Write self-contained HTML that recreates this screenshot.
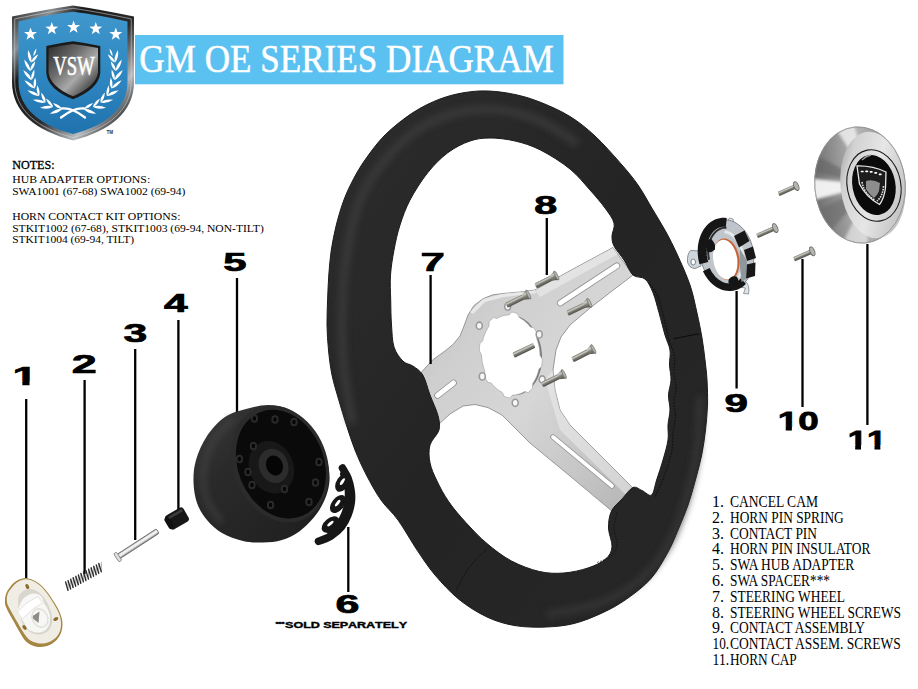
<!DOCTYPE html>
<html><head><meta charset="utf-8"><title>GM OE Series Diagram</title>
<style>
html,body{margin:0;padding:0;background:#fff;}
body{width:918px;height:689px;overflow:hidden;}
svg{display:block;}
.ser{font-family:"Liberation Serif","DejaVu Serif",serif;}
.num{font-family:"Liberation Sans","DejaVu Sans",sans-serif;font-weight:bold;font-kerning:none;}
</style></head><body>
<svg width="918" height="689" viewBox="0 0 918 689">
<defs>

<linearGradient id="gBlue" x1="0" y1="0" x2="0" y2="1"><stop offset="0" stop-color="#3f97cd"/><stop offset="0.55" stop-color="#2e86c0"/><stop offset="1" stop-color="#1f72ad"/></linearGradient>
<linearGradient id="gChrome" x1="0" y1="0" x2="1" y2="1"><stop offset="0" stop-color="#222"/><stop offset="0.18" stop-color="#8a8f93"/><stop offset="0.3" stop-color="#1a1a1a"/><stop offset="0.55" stop-color="#2a2a2a"/><stop offset="0.75" stop-color="#b8bcc0"/><stop offset="0.88" stop-color="#333"/><stop offset="1" stop-color="#111"/></linearGradient>
<linearGradient id="gInner" x1="0" y1="0" x2="1" y2="1"><stop offset="0" stop-color="#2c2c2c"/><stop offset="0.35" stop-color="#6a6a6a"/><stop offset="0.6" stop-color="#a9a9a9"/><stop offset="0.8" stop-color="#5a5a5a"/><stop offset="1" stop-color="#333"/></linearGradient>
<linearGradient id="gSilver" x1="0" y1="0" x2="1" y2="1"><stop offset="0" stop-color="#bdbdbd"/><stop offset="0.3" stop-color="#cfcfcf"/><stop offset="0.55" stop-color="#d6d6d6"/><stop offset="0.8" stop-color="#c6c6c6"/><stop offset="1" stop-color="#b4b4b4"/></linearGradient>
<linearGradient id="gWheel" x1="0" y1="0" x2="1" y2="1"><stop offset="0" stop-color="#2d2d2d"/><stop offset="0.5" stop-color="#242424"/><stop offset="1" stop-color="#272727"/></linearGradient>
<linearGradient id="gScrew" x1="0" y1="0" x2="0" y2="1"><stop offset="0" stop-color="#7c7c75"/><stop offset="0.28" stop-color="#cdcdc6"/><stop offset="0.55" stop-color="#7d7d75"/><stop offset="1" stop-color="#4f4f49"/></linearGradient>
<linearGradient id="gPin" x1="0" y1="0" x2="0" y2="1"><stop offset="0" stop-color="#a5a5a5"/><stop offset="0.35" stop-color="#fafafa"/><stop offset="0.65" stop-color="#e2e2e2"/><stop offset="1" stop-color="#777"/></linearGradient>
<linearGradient id="gHubSide" x1="0" y1="0" x2="1" y2="1"><stop offset="0" stop-color="#3c3c3c"/><stop offset="0.35" stop-color="#2a2a2a"/><stop offset="0.8" stop-color="#222"/><stop offset="1" stop-color="#181818"/></linearGradient>
<linearGradient id="gCap" x1="0" y1="0" x2="1" y2="0.6"><stop offset="0" stop-color="#8b8b8b"/><stop offset="0.25" stop-color="#d2d2d2"/><stop offset="0.6" stop-color="#e6e6e6"/><stop offset="1" stop-color="#c4c4c4"/></linearGradient>
<linearGradient id="gCapSide" x1="0" y1="0" x2="1" y2="0"><stop offset="0" stop-color="#6e6e6e"/><stop offset="0.5" stop-color="#b5b5b5"/><stop offset="1" stop-color="#8a8a8a"/></linearGradient>
<filter id="blur3" x="-30%" y="-30%" width="160%" height="160%"><feGaussianBlur stdDeviation="3"/></filter>
<filter id="blur2" x="-30%" y="-30%" width="160%" height="160%"><feGaussianBlur stdDeviation="1.6"/></filter>

<clipPath id="plateClip"><path d="M418.0 376.0L432.5 360.0L445.0 351.0L453.0 344.5L460.0 336.0L464.0 326.0L468.0 315.0L474.0 305.5L482.6 299.0L492.0 295.0L503.0 293.5L520.0 292.0L535.0 290.0L575.0 268.0L613.0 247.5L633.0 275.0L612.0 291.0L590.4 307.7L570.0 325.0L561.0 337.0L556.0 350.0L553.0 370.0L555.0 390.0L560.0 410.0L570.0 425.0L600.0 455.0L633.0 488.0L613.0 512.0L570.0 476.0L530.0 443.0L515.0 428.0L502.0 415.0L488.0 407.6L475.0 404.5L463.0 406.0L450.0 414.0L438.0 425.0Z"/></clipPath>
<clipPath id="capClip"><ellipse cx="860" cy="185" rx="45.6" ry="58.6" transform="rotate(-5 860 185)"/></clipPath>
<clipPath id="nc1"><path d="M-1.00 -25.30H14.07V-3.33H9.66V2.00H5.62V-3.33H-1.00Z"/></clipPath>
<clipPath id="nc2"><path d="M-1.00 -25.30H14.07V-3.33H9.72V2.00H5.56V-3.33H-1.00ZM14.07 -25.30H30.14V3.00H14.07Z"/></clipPath>
<clipPath id="nc3"><path d="M-1.00 -25.30H14.07V-3.33H9.74V2.00H5.54V-3.33H-1.00ZM13.07 -25.30H28.14V-3.33H23.81V2.00H19.61V-3.33H13.07Z"/></clipPath>
</defs>
<rect x="135" y="35" width="428.5" height="49.3" fill="#5bc1f1"/>
<text class="ser" x="139.3" y="71.6" font-size="40.3" fill="#fff" stroke="#fff" stroke-width="0.55" textLength="414.5" lengthAdjust="spacingAndGlyphs">GM OE SERIES DIAGRAM</text>
<path d="M12 16.5 Q45 9.5 73 5.4 Q101 9.5 134 16.5 L134 82 C134 112 110 131 73 140.4 C36 131 12 112 12 82 Z" fill="url(#gChrome)"/>
<path d="M12 16.5 Q45 9.5 73 5.4 Q101 9.5 134 16.5 L134 82 C134 112 110 131 73 140.4 C36 131 12 112 12 82 Z" fill="none" stroke="#d9dcde" stroke-width="1" opacity="0.55" transform="translate(73 73) scale(0.955 0.957) translate(-73 -73)"/>
<path d="M18.5 21.5 Q47 15 73 11.8 Q99 15 127.5 21.5 L127.5 82 C127.5 108 106 125.5 73 134 C40 125.5 18.5 108 18.5 82 Z" fill="url(#gBlue)"/>
<path d="M30.5 27.4L32.1 32.0L37.0 32.1L33.1 35.0L34.5 39.7L30.5 36.9L26.5 39.7L27.9 35.0L24.0 32.1L28.9 32.0Z" fill="#fff"/>
<path d="M51.8 22.0L53.4 26.6L58.3 26.7L54.4 29.6L55.8 34.3L51.8 31.5L47.8 34.3L49.2 29.6L45.3 26.7L50.2 26.6Z" fill="#fff"/>
<path d="M73.6 20.4L75.2 25.0L80.1 25.1L76.2 28.0L77.6 32.7L73.6 29.9L69.6 32.7L71.0 28.0L67.1 25.1L72.0 25.0Z" fill="#fff"/>
<path d="M95.8 22.0L97.4 26.6L102.3 26.7L98.4 29.6L99.8 34.3L95.8 31.5L91.8 34.3L93.2 29.6L89.3 26.7L94.2 26.6Z" fill="#fff"/>
<path d="M115.8 27.4L117.4 32.0L122.3 32.1L118.4 35.0L119.8 39.7L115.8 36.9L111.8 39.7L113.2 35.0L109.3 32.1L114.2 32.0Z" fill="#fff"/>
<path d="M46.3 46 Q60 43 73 41.3 Q86 43 100.3 46 L100.3 73 Q98.5 89 73 99.3 Q47.5 89 46.3 73 Z" fill="#1b1b1b"/>
<path d="M48.6 48 Q61 45.4 73 44 Q85 45.4 98 48 L98 72.5 Q96 86.5 73 96.3 Q50 86.5 48.6 72.5 Z" fill="url(#gInner)"/>
<text class="ser" x="53.2" y="75.4" font-size="26.5" fill="#fff" stroke="#fff" stroke-width="0.6" textLength="41.6" lengthAdjust="spacingAndGlyphs">VSW</text>
<path d="M62.0 109.2 Q56.1 108.3 49.8 113.8 Q58.2 113.8 62.0 109.2 Z M62.0 109.2 Q59.8 104.6 52.9 103.1 Q56.9 108.9 62.0 109.2 Z M53.0 107.0 Q47.6 104.4 40.0 107.8 Q48.0 110.2 53.0 107.0 Z M53.0 107.0 Q52.2 101.9 46.0 98.5 Q48.2 105.2 53.0 107.0 Z M45.5 102.5 Q41.0 98.6 32.8 99.7 Q39.8 104.2 45.5 102.5 Z M45.5 102.5 Q46.2 97.4 41.2 92.4 Q41.4 99.5 45.5 102.5 Z M39.0 96.0 Q35.6 91.1 27.3 90.3 Q33.1 96.3 39.0 96.0 Z M39.0 96.0 Q40.8 91.2 37.2 85.2 Q35.7 92.1 39.0 96.0 Z M34.5 88.5 Q32.3 83.0 24.4 80.3 Q28.6 87.5 34.5 88.5 Z M34.5 88.5 Q37.4 84.3 35.2 77.5 Q32.2 83.9 34.5 88.5 Z M31.5 80.0 Q30.4 74.1 23.2 70.0 Q26.0 77.8 31.5 80.0 Z M31.5 80.0 Q35.1 76.4 34.3 69.4 Q30.1 75.1 31.5 80.0 Z M30.2 71.0 Q30.4 65.0 24.2 59.5 Q25.2 67.7 30.2 71.0 Z M30.2 71.0 Q34.5 68.3 35.2 61.2 Q29.9 65.9 30.2 71.0 Z M31.0 62.5 Q32.6 56.8 28.0 49.9 Q27.0 58.1 31.0 62.5 Z M31.0 62.5 Q35.9 60.9 38.2 54.2 Q31.9 57.5 31.0 62.5 Z M33.5 56.0 Q36.3 53.7 36.4 48.5 Q33.0 52.4 33.5 56.0 Z M84.0 109.2 Q87.8 113.8 96.2 113.8 Q89.9 108.3 84.0 109.2 Z M84.0 109.2 Q89.1 108.9 93.1 103.1 Q86.2 104.6 84.0 109.2 Z M93.0 107.0 Q98.0 110.2 106.0 107.8 Q98.4 104.4 93.0 107.0 Z M93.0 107.0 Q97.8 105.2 100.0 98.5 Q93.8 101.9 93.0 107.0 Z M100.5 102.5 Q106.2 104.2 113.2 99.7 Q105.0 98.6 100.5 102.5 Z M100.5 102.5 Q104.6 99.5 104.8 92.4 Q99.8 97.4 100.5 102.5 Z M107.0 96.0 Q112.9 96.3 118.7 90.3 Q110.4 91.1 107.0 96.0 Z M107.0 96.0 Q110.3 92.1 108.8 85.2 Q105.2 91.2 107.0 96.0 Z M111.5 88.5 Q117.4 87.5 121.6 80.3 Q113.7 83.0 111.5 88.5 Z M111.5 88.5 Q113.8 83.9 110.8 77.5 Q108.6 84.3 111.5 88.5 Z M114.5 80.0 Q120.0 77.8 122.8 70.0 Q115.6 74.1 114.5 80.0 Z M114.5 80.0 Q115.9 75.1 111.7 69.4 Q110.9 76.4 114.5 80.0 Z M115.8 71.0 Q120.8 67.7 121.8 59.5 Q115.6 65.0 115.8 71.0 Z M115.8 71.0 Q116.1 65.9 110.8 61.2 Q111.5 68.3 115.8 71.0 Z M115.0 62.5 Q119.0 58.1 118.0 49.9 Q113.4 56.8 115.0 62.5 Z M115.0 62.5 Q114.1 57.5 107.8 54.2 Q110.1 60.9 115.0 62.5 Z M112.5 56.0 Q113.0 52.4 109.6 48.5 Q109.7 53.7 112.5 56.0 Z" fill="#fff"/>
<path d="M62 108.5 Q72 107.5 85 117.5 M84 108.5 Q74 107.5 61 117.5" stroke="#fff" stroke-width="2.3" fill="none" stroke-linecap="round"/>
<text x="106.5" y="134.3" font-size="4.6" font-family="Liberation Sans, sans-serif" font-weight="bold" fill="#333">TM</text>
<path d="M418.0 376.0L432.5 360.0L445.0 351.0L453.0 344.5L460.0 336.0L464.0 326.0L468.0 315.0L474.0 305.5L482.6 299.0L492.0 295.0L503.0 293.5L520.0 292.0L535.0 290.0L575.0 268.0L613.0 247.5L633.0 275.0L612.0 291.0L590.4 307.7L570.0 325.0L561.0 337.0L556.0 350.0L553.0 370.0L555.0 390.0L560.0 410.0L570.0 425.0L600.0 455.0L633.0 488.0L613.0 512.0L570.0 476.0L530.0 443.0L515.0 428.0L502.0 415.0L488.0 407.6L475.0 404.5L463.0 406.0L450.0 414.0L438.0 425.0Z" fill="url(#gSilver)" stroke="#8f8f8f" stroke-width="0.9"/>
<g clip-path="url(#plateClip)">
<path d="M535 290 L613 247.5 L618 254 L540 297 Z" fill="#f0f0f0" opacity="0.55"/>
<path d="M553 370 L570 425 L633 488 L626 495 L560 430 L545 380 Z" fill="#efefef" opacity="0.5"/>
<path d="M438 425 L463 406 L488 407.6 L530 443 L527 446 L487 411 L464 409.5 L440 427 Z" fill="#9a9a9a" opacity="0.5"/>
<path d="M470 312 L483 299 L503 293.5 L535 290 L536 293 L504 297 L485 302 L473 314 Z" fill="#f4f4f4" opacity="0.7"/>
</g>
<path d="M541.7 351.9L542.0 355.4L542.0 358.9L541.8 362.4L541.4 365.8L540.8 369.1L539.9 372.4L538.8 375.5L537.6 378.4L536.1 381.2L534.4 383.7L532.6 386.1L530.7 388.2L528.6 390.0L526.3 391.6L524.0 392.9L521.6 393.9L519.1 394.7L516.5 395.1L513.9 395.2L511.3 395.0L508.7 394.5L506.2 393.7L503.7 392.6L501.2 391.3L498.9 389.6L496.6 387.7L494.5 385.5L492.5 383.1L490.6 380.5L488.9 377.7L487.4 374.7L486.1 371.6L485.0 368.4L484.0 365.0L483.3 361.6L482.9 358.1L482.6 354.6L482.6 351.1L482.8 347.6L483.2 344.2L483.8 340.9L484.7 337.6L485.8 334.5L487.0 331.6L488.5 328.8L490.2 326.3L492.0 323.9L493.9 321.8L496.0 320.0L498.3 318.4L500.6 317.1L503.0 316.1L505.5 315.3L508.1 314.9L510.7 314.8L513.3 315.0L515.9 315.5L518.4 316.3L520.9 317.4L523.4 318.7L525.7 320.4L528.0 322.3L530.1 324.5L532.1 326.9L534.0 329.5L535.7 332.3L537.2 335.3L538.5 338.4L539.6 341.6L540.6 345.0L541.3 348.4Z" fill="#7a7a7a"/>
<path d="M539.8 351.9L540.1 355.4L542.3 359.2L542.1 363.0L541.7 366.6L538.9 369.1L538.1 372.3L537.0 375.4L535.7 378.4L534.3 381.1L532.7 383.7L532.4 388.3L530.3 390.6L528.1 392.6L524.7 391.5L522.4 392.8L520.0 393.8L517.5 394.6L515.0 395.0L512.5 395.1L509.8 397.9L507.1 397.4L504.4 396.5L502.3 392.5L499.9 391.1L497.6 389.5L495.4 387.6L493.2 385.4L491.3 383.0L487.8 382.3L486.0 379.3L484.4 376.1L484.9 371.5L483.8 368.3L482.9 364.9L482.2 361.5L481.8 358.1L481.5 354.6L479.3 350.8L479.5 347.0L479.9 343.4L482.7 340.9L483.5 337.7L484.6 334.6L485.9 331.6L487.3 328.9L488.9 326.3L489.2 321.7L491.3 319.4L493.5 317.4L496.9 318.5L499.2 317.2L501.6 316.2L504.1 315.4L506.6 315.0L509.1 314.9L511.8 312.1L514.5 312.6L517.2 313.5L519.3 317.5L521.7 318.9L524.0 320.5L526.2 322.4L528.4 324.6L530.3 327.0L533.8 327.7L535.6 330.7L537.2 333.9L536.7 338.5L537.8 341.7L538.7 345.1L539.4 348.5Z" fill="#fff" stroke="#a0a0a0" stroke-width="0.6"/>
<ellipse cx="479.3" cy="325.7" rx="3" ry="3.6" fill="#f7f7f7" stroke="#9a9a9a" stroke-width="1.6"/>
<ellipse cx="539.2" cy="334.4" rx="3" ry="3.6" fill="#f7f7f7" stroke="#9a9a9a" stroke-width="1.6"/>
<ellipse cx="482.3" cy="376.4" rx="3" ry="3.6" fill="#f7f7f7" stroke="#9a9a9a" stroke-width="1.6"/>
<ellipse cx="515.2" cy="402.8" rx="3" ry="3.6" fill="#f7f7f7" stroke="#9a9a9a" stroke-width="1.6"/>
<ellipse cx="542.2" cy="379.5" rx="3" ry="3.6" fill="#f7f7f7" stroke="#9a9a9a" stroke-width="1.6"/>
<ellipse cx="507.7" cy="306.6" rx="3" ry="3.6" fill="#f7f7f7" stroke="#9a9a9a" stroke-width="1.6"/>
<line x1="560.3" y1="303.0" x2="616.8" y2="265.8" stroke="#8f8f8f" stroke-width="6.6" stroke-linecap="round"/><line x1="560.3" y1="303.0" x2="616.8" y2="265.8" stroke="#fff" stroke-width="5.0" stroke-linecap="round"/>
<line x1="553.0" y1="437.0" x2="612.0" y2="486.0" stroke="#8f8f8f" stroke-width="5.4" stroke-linecap="round"/><line x1="553.0" y1="437.0" x2="612.0" y2="486.0" stroke="#fff" stroke-width="3.8" stroke-linecap="round"/>
<line x1="437.5" y1="395.5" x2="453.5" y2="383.0" stroke="#8f8f8f" stroke-width="6.6" stroke-linecap="round"/><line x1="437.5" y1="395.5" x2="453.5" y2="383.0" stroke="#fff" stroke-width="5.0" stroke-linecap="round"/>
<path d="M488.0 91.0C496.3 91.3 506.2 92.6 515.0 94.5C523.8 96.4 531.8 98.8 541.0 102.5C550.2 106.2 561.0 110.9 570.0 116.5C579.0 122.1 586.7 128.3 595.0 136.0C603.3 143.7 612.8 154.5 620.0 162.7C627.2 170.9 632.5 177.1 638.0 185.0C643.5 192.9 648.3 202.2 653.0 210.0C657.7 217.8 662.0 224.7 666.0 232.0C670.0 239.3 673.0 245.2 677.0 254.0C681.0 262.8 686.7 275.2 690.0 285.0C693.3 294.8 695.0 304.2 697.0 313.0C699.0 321.8 700.7 330.2 702.0 338.0C703.3 345.8 704.2 353.0 705.0 360.0C705.8 367.0 706.6 372.5 707.0 380.0C707.4 387.5 707.8 396.7 707.5 405.0C707.2 413.3 706.5 421.7 705.5 430.0C704.5 438.3 703.4 446.7 701.7 455.0C700.0 463.3 697.7 471.7 695.4 480.0C693.1 488.3 690.9 496.7 688.0 505.0C685.1 513.3 681.3 522.2 678.0 530.0C674.7 537.8 672.5 543.9 668.0 552.0C663.5 560.1 657.9 570.7 651.0 578.5C644.1 586.3 634.8 593.2 626.6 599.0C618.4 604.8 610.8 608.9 602.0 613.0C593.2 617.1 583.3 621.2 574.0 623.5C564.7 625.8 556.2 626.6 546.4 627.0C536.6 627.4 524.9 627.3 515.0 625.6C505.1 623.9 496.3 621.4 487.0 617.0C477.7 612.6 467.7 606.4 459.0 599.4C450.3 592.4 441.9 583.1 435.0 575.0C428.1 566.9 423.6 559.8 417.4 550.6C411.2 541.4 404.1 528.4 398.0 520.0C391.9 511.6 386.3 507.5 381.0 500.0C375.7 492.5 370.7 483.3 366.4 475.0C362.1 466.7 358.3 458.3 355.0 450.0C351.7 441.7 349.1 433.3 346.4 425.0C343.7 416.7 341.2 408.3 338.8 400.0C336.4 391.7 333.7 383.3 332.0 375.0C330.3 366.7 329.3 358.3 328.5 350.0C327.7 341.7 327.1 333.3 327.0 325.0C326.9 316.7 327.3 308.3 327.6 300.0C327.9 291.7 328.2 283.3 328.8 275.0C329.4 266.7 330.1 258.3 331.3 250.0C332.6 241.7 334.2 233.3 336.3 225.0C338.4 216.7 341.1 207.5 343.9 200.0C346.7 192.5 349.5 186.7 353.0 180.0C356.5 173.3 359.7 167.5 365.0 160.0C370.3 152.5 377.0 142.9 385.0 135.0C393.0 127.1 403.8 118.6 413.0 112.6C422.2 106.6 431.3 102.3 440.0 99.0C448.7 95.7 457.0 93.8 465.0 92.5C473.0 91.2 479.7 90.7 488.0 91.0Z M490.0 138.0C497.5 138.0 506.6 139.0 515.0 141.0C523.4 143.0 531.3 145.3 540.5 150.0C549.7 154.7 561.8 162.3 570.0 169.0C578.2 175.7 584.2 183.5 590.0 190.0C595.8 196.5 601.0 202.5 605.0 208.0C609.0 213.5 612.8 218.3 614.0 223.0C615.2 227.7 612.0 232.2 612.0 236.0C612.0 239.8 612.0 242.0 614.0 246.0C616.0 250.0 620.8 255.2 624.0 260.0C627.2 264.8 629.5 271.8 633.0 275.0C636.5 278.2 641.7 276.1 645.0 279.0C648.3 281.9 650.7 287.1 653.0 292.7C655.3 298.3 657.0 305.6 659.0 312.7C661.0 319.8 663.2 328.8 665.0 335.0C666.8 341.2 669.2 345.0 670.0 350.0C670.8 355.0 669.3 360.0 669.5 365.0C669.7 370.0 671.2 375.0 671.0 380.0C670.8 385.0 668.7 390.0 668.5 395.0C668.3 400.0 670.1 405.0 670.0 410.0C669.9 415.0 668.3 420.0 668.0 425.0C667.7 430.0 668.8 434.2 668.0 440.0C667.2 445.8 664.9 453.3 663.0 460.0C661.1 466.7 658.5 474.2 656.6 480.0C654.7 485.8 654.0 493.2 651.6 495.0C649.2 496.8 645.1 491.8 642.0 490.5C638.9 489.2 636.3 486.1 633.0 487.5C629.7 488.9 625.6 495.1 622.0 499.0C618.4 502.9 613.8 506.2 611.5 511.0C609.2 515.8 608.4 522.0 608.5 528.0C608.6 534.0 612.5 541.8 612.0 547.0C611.5 552.2 609.6 555.5 605.6 559.0C601.6 562.5 595.0 565.7 588.0 568.0C581.0 570.3 571.9 572.4 563.8 573.0C555.7 573.6 548.1 573.5 539.4 571.5C530.7 569.5 520.2 565.6 511.5 561.0C502.8 556.4 494.6 550.0 487.0 543.6C479.4 537.2 472.4 529.7 466.0 522.7C459.6 515.7 453.6 508.8 448.8 501.8C444.0 494.9 440.1 487.5 437.0 481.0C433.9 474.5 431.2 468.8 430.0 462.8C428.8 456.8 428.5 450.5 430.0 445.0C431.5 439.5 437.7 435.0 439.0 430.0C440.3 425.0 439.3 420.8 437.8 415.0C436.3 409.2 432.5 401.7 430.0 395.0C427.5 388.3 425.7 379.8 422.8 375.0C419.9 370.2 416.1 368.3 412.8 366.0C409.5 363.7 405.9 364.2 402.8 361.0C399.7 357.8 395.9 353.0 394.0 347.0C392.1 341.0 392.1 332.8 391.5 325.0C390.9 317.2 390.9 308.3 390.7 300.0C390.5 291.7 389.9 283.3 390.5 275.0C391.1 266.7 392.4 258.3 394.0 250.0C395.6 241.7 397.3 233.3 400.0 225.0C402.7 216.7 405.4 208.7 410.0 200.0C414.6 191.3 421.4 180.6 427.7 172.7C434.0 164.8 440.8 158.0 447.8 152.7C454.9 147.4 463.0 143.4 470.0 141.0C477.0 138.6 482.5 138.0 490.0 138.0Z" fill="url(#gWheel)" fill-rule="evenodd" stroke="#1b1b1b" stroke-width="1" stroke-linejoin="round"/>
<path d="M352.0 420.0C350.7 411.7 345.7 386.7 344.0 370.0C342.3 353.3 341.7 338.3 342.0 320.0C342.3 301.7 343.0 280.0 346.0 260.0C349.0 240.0 353.5 216.7 360.0 200.0C366.5 183.3 375.0 172.0 385.0 160.0C395.0 148.0 407.5 136.0 420.0 128.0C432.5 120.0 446.7 115.0 460.0 112.0C473.3 109.0 486.7 108.5 500.0 110.0C513.3 111.5 527.5 115.7 540.0 121.0C552.5 126.3 569.2 138.5 575.0 142.0" fill="none" stroke="#3d3d3d" stroke-width="9" opacity="0.7" stroke-linecap="round" filter="url(#blur3)"/>
<path d="M700.0 400.0C699.5 408.3 699.3 433.3 697.0 450.0C694.7 466.7 690.8 484.2 686.0 500.0C681.2 515.8 675.7 531.7 668.0 545.0C660.3 558.3 651.3 570.3 640.0 580.0C628.7 589.7 615.0 597.3 600.0 603.0C585.0 608.7 558.3 612.2 550.0 614.0" fill="none" stroke="#383838" stroke-width="8" opacity="0.7" stroke-linecap="round" filter="url(#blur3)"/>
<path d="M673.5 338.8 L699 333.8" stroke="#0c0c0c" stroke-width="1.1"/>
<path d="M650.0 284.0C651.3 286.2 655.7 291.3 658.0 297.0C660.3 302.7 662.2 310.8 664.0 318.0C665.8 325.2 667.2 333.7 669.0 340.0C670.8 346.3 673.7 350.7 674.5 356.0C675.3 361.3 673.8 366.7 674.0 372.0C674.2 377.3 676.0 383.0 676.0 388.0C676.0 393.0 674.1 397.2 674.0 402.0C673.9 406.8 675.7 412.0 675.5 417.0C675.3 422.0 673.5 427.0 673.0 432.0C672.5 437.0 673.3 441.5 672.5 447.0C671.7 452.5 669.8 459.0 668.0 465.0C666.2 471.0 663.7 477.7 661.5 483.0C659.3 488.3 656.1 494.7 655.0 497.0" fill="none" stroke="#0b0b0b" stroke-width="1.1" stroke-dasharray="1.6 1.4" opacity="0.8"/>
<path d="M617.0 512.0C616.5 514.7 614.0 522.5 614.0 528.0C614.0 533.5 617.5 540.3 617.0 545.0C616.5 549.7 614.5 553.0 611.0 556.0C607.5 559.0 598.5 561.8 596.0 563.0" fill="none" stroke="#0b0b0b" stroke-width="1" stroke-dasharray="1.5 1.5" opacity="0.7"/>
<path d="M456 591 Q466 566 487 549" stroke="#151515" stroke-width="1" fill="none" opacity="0.8"/>
<g transform="translate(535.5 286.0) rotate(-26.6)"><rect x="0" y="-2.7" width="20.4" height="5.4" rx="1.2" fill="url(#gScrew)"/><path d="M17.4 -2.7 L23.4 -5.0 L23.4 5.0 L17.4 2.7 Z" fill="url(#gScrew)"/><ellipse cx="23.4" cy="0" rx="1.3" ry="5.0" fill="#b5b5b0" stroke="#6a6a66" stroke-width="0.6"/></g>
<g transform="translate(506.5 305.3) rotate(-26.1)"><rect x="0" y="-2.7" width="21.4" height="5.4" rx="1.2" fill="url(#gScrew)"/><path d="M18.4 -2.7 L24.4 -5.0 L24.4 5.0 L18.4 2.7 Z" fill="url(#gScrew)"/><ellipse cx="24.4" cy="0" rx="1.3" ry="5.0" fill="#b5b5b0" stroke="#6a6a66" stroke-width="0.6"/></g>
<g transform="translate(567.5 313.3) rotate(-25.5)"><rect x="0" y="-2.7" width="21.3" height="5.4" rx="1.2" fill="url(#gScrew)"/><path d="M18.3 -2.7 L24.3 -5.0 L24.3 5.0 L18.3 2.7 Z" fill="url(#gScrew)"/><ellipse cx="24.3" cy="0" rx="1.3" ry="5.0" fill="#b5b5b0" stroke="#6a6a66" stroke-width="0.6"/></g>
<g transform="translate(513.5 355.3) rotate(-25.6)"><rect x="0" y="-2.7" width="23.0" height="5.4" rx="1.2" fill="url(#gScrew)"/></g>
<g transform="translate(572.5 359.8) rotate(-27.2)"><rect x="0" y="-2.7" width="20.5" height="5.4" rx="1.2" fill="url(#gScrew)"/><path d="M17.5 -2.7 L23.5 -5.0 L23.5 5.0 L17.5 2.7 Z" fill="url(#gScrew)"/><ellipse cx="23.5" cy="0" rx="1.3" ry="5.0" fill="#b5b5b0" stroke="#6a6a66" stroke-width="0.6"/></g>
<g transform="translate(542.0 384.8) rotate(-26.1)"><rect x="0" y="-2.7" width="21.4" height="5.4" rx="1.2" fill="url(#gScrew)"/><path d="M18.4 -2.7 L24.4 -5.0 L24.4 5.0 L18.4 2.7 Z" fill="url(#gScrew)"/><ellipse cx="24.4" cy="0" rx="1.3" ry="5.0" fill="#b5b5b0" stroke="#6a6a66" stroke-width="0.6"/></g>
<line x1="26.2" y1="399.0" x2="26.2" y2="578.0" stroke="#000" stroke-width="2.3"/>
<line x1="84.6" y1="380.0" x2="84.6" y2="574.0" stroke="#000" stroke-width="2.3"/>
<line x1="135.2" y1="349.0" x2="135.2" y2="540.0" stroke="#000" stroke-width="2.3"/>
<line x1="178.4" y1="320.0" x2="178.4" y2="510.0" stroke="#000" stroke-width="2.3"/>
<line x1="237.0" y1="278.0" x2="237.0" y2="412.0" stroke="#000" stroke-width="2.3"/>
<line x1="348.3" y1="527.0" x2="348.3" y2="592.0" stroke="#000" stroke-width="2.3"/>
<line x1="430.6" y1="275.0" x2="430.6" y2="364.0" stroke="#000" stroke-width="2.3"/>
<line x1="546.8" y1="218.0" x2="546.8" y2="275.0" stroke="#000" stroke-width="2.3"/>
<line x1="736.6" y1="291.0" x2="736.6" y2="388.5" stroke="#000" stroke-width="2.3"/>
<line x1="802.5" y1="259.0" x2="802.5" y2="407.0" stroke="#000" stroke-width="2.3"/>
<line x1="867.4" y1="244.0" x2="867.4" y2="425.0" stroke="#000" stroke-width="2.3"/>
<path d="M246.0 409.0C238.8 411.0 231.5 412.5 225.0 417.0C218.5 421.5 211.8 428.8 207.0 436.0C202.2 443.2 198.2 452.3 196.0 460.0C193.8 467.7 193.3 474.8 193.5 482.0C193.7 489.2 194.8 496.7 197.0 503.0C199.2 509.3 202.8 515.0 207.0 520.0C211.2 525.0 216.0 529.5 222.0 533.0C228.0 536.5 236.2 539.4 243.0 541.0C249.8 542.6 256.5 542.7 263.0 542.5C269.5 542.3 275.8 541.9 282.0 540.0C288.2 538.1 294.0 535.7 300.0 531.0C306.0 526.3 313.3 518.8 318.0 512.0C322.7 505.2 326.2 497.0 328.0 490.0C329.8 483.0 330.0 477.5 329.0 470.0C328.0 462.5 325.8 453.0 322.0 445.0C318.2 437.0 311.7 428.0 306.0 422.0C300.3 416.0 294.3 411.8 288.0 409.0C281.7 406.2 275.0 405.0 268.0 405.0C261.0 405.0 253.2 407.0 246.0 409.0Z" fill="url(#gHubSide)"/>
<g transform="rotate(-22 280 464)"><ellipse cx="280" cy="464" rx="47" ry="60" fill="#2b2b2b"/><ellipse cx="280.8" cy="464.5" rx="43" ry="56" fill="#0a0a0a"/></g>
<g transform="rotate(-22 272 466)"><ellipse cx="271" cy="467" rx="22" ry="27" fill="#181818"/><ellipse cx="273.5" cy="466.5" rx="14.5" ry="17.5" fill="#2c2c2c"/><ellipse cx="274.5" cy="466.5" rx="8.3" ry="10.3" fill="#050505"/></g>
<ellipse cx="254.4" cy="418.5" rx="2.7" ry="3.3" fill="#050505" stroke="#2a2a2a" stroke-width="2"/>
<ellipse cx="275.0" cy="419.5" rx="2.7" ry="3.3" fill="#050505" stroke="#2a2a2a" stroke-width="2"/>
<ellipse cx="294.0" cy="422.0" rx="2.7" ry="3.3" fill="#050505" stroke="#2a2a2a" stroke-width="2"/>
<ellipse cx="319.0" cy="462.0" rx="2.7" ry="3.3" fill="#050505" stroke="#2a2a2a" stroke-width="2"/>
<ellipse cx="315.5" cy="482.5" rx="2.7" ry="3.3" fill="#050505" stroke="#2a2a2a" stroke-width="2"/>
<ellipse cx="309.0" cy="502.0" rx="2.7" ry="3.3" fill="#050505" stroke="#2a2a2a" stroke-width="2"/>
<ellipse cx="270.6" cy="505.0" rx="2.7" ry="3.3" fill="#050505" stroke="#2a2a2a" stroke-width="2"/>
<ellipse cx="284.5" cy="489.0" rx="2.7" ry="3.3" fill="#050505" stroke="#2a2a2a" stroke-width="2"/>
<ellipse cx="252.0" cy="485.0" rx="2.7" ry="3.3" fill="#050505" stroke="#2a2a2a" stroke-width="2"/>
<ellipse cx="239.4" cy="459.0" rx="2.7" ry="3.3" fill="#050505" stroke="#2a2a2a" stroke-width="2"/>
<ellipse cx="253.4" cy="446.0" rx="2.7" ry="3.3" fill="#050505" stroke="#2a2a2a" stroke-width="2"/>
<ellipse cx="248.0" cy="472.0" rx="2.7" ry="3.3" fill="#050505" stroke="#2a2a2a" stroke-width="2"/>
<path d="M232.0 420.0C229.0 423.3 218.7 432.0 214.0 440.0C209.3 448.0 205.3 458.3 204.0 468.0C202.7 477.7 203.3 489.3 206.0 498.0C208.7 506.7 217.7 516.3 220.0 520.0" fill="none" stroke="#4a4a4a" stroke-width="6" opacity="0.5" stroke-linecap="round" filter="url(#blur3)"/>
<path d="M342.5 468.0C343.4 469.7 346.6 474.3 348.0 478.0C349.4 481.7 350.4 486.0 351.0 490.0C351.6 494.0 351.8 497.8 351.3 502.0C350.8 506.2 349.6 510.8 348.0 515.0C346.4 519.2 344.3 523.5 341.5 527.0C338.7 530.5 334.8 533.6 331.0 536.0C327.2 538.4 320.6 540.4 318.5 541.3" fill="none" stroke="#161616" stroke-width="7.6" stroke-linecap="round"/>
<path d="M343.0 474.0C343.7 475.8 346.2 480.7 347.0 485.0C347.8 489.3 347.9 495.3 347.5 500.0C347.1 504.7 346.0 509.0 344.5 513.0C343.0 517.0 340.9 520.8 338.5 524.0C336.1 527.2 331.4 530.7 330.0 532.0" fill="none" stroke="#161616" stroke-width="6" stroke-linecap="round"/>
<g transform="rotate(33 342.8 482.5)"><ellipse cx="342.8" cy="482.5" rx="6.2" ry="10.3" fill="#161616"/><ellipse cx="342.0" cy="482.0" rx="1.5" ry="3.9" fill="#fff"/></g>
<g transform="rotate(38 338.0 504.0)"><ellipse cx="338.0" cy="504.0" rx="6.2" ry="10.3" fill="#161616"/><ellipse cx="337.2" cy="503.5" rx="1.5" ry="3.9" fill="#fff"/></g>
<g transform="rotate(50 330.5 524.5)"><ellipse cx="330.5" cy="524.5" rx="6.2" ry="10.3" fill="#161616"/><ellipse cx="329.7" cy="524.0" rx="1.5" ry="3.9" fill="#fff"/></g>
<g transform="rotate(-30 177 518.5)"><rect x="166.5" y="510.5" width="21" height="16" rx="3.2" fill="#171717"/><rect x="165.2" y="512" width="6" height="13" rx="2.5" fill="#101010"/><rect x="170" y="512.6" width="16" height="2.6" rx="1.2" fill="#4a4a4a" opacity="0.75"/></g>
<g transform="translate(117.3 557.3) rotate(-33)"><rect x="1" y="-2.6" width="47.2" height="5.2" rx="1.2" fill="url(#gPin)" stroke="#666" stroke-width="0.8"/><rect x="-1.2" y="-5" width="3.4" height="10" rx="1.5" fill="#dedede" stroke="#808080" stroke-width="0.8"/></g>
<path d="M68.0 590.4L68.1 580.6M70.6 589.0L70.7 579.1M73.1 587.6L73.2 577.7M75.7 586.2L75.8 576.3M78.3 584.7L78.4 574.9M80.8 583.3L80.9 573.4M83.4 581.9L83.5 572.0M85.9 580.5L86.0 570.6M88.5 579.1L88.6 569.2M91.0 577.6L91.1 567.8M93.6 576.2L93.7 566.3M96.2 574.8L96.3 564.9M98.7 573.4L98.8 563.5M101.3 571.9L101.4 562.1" fill="none" stroke="#8a8a8a" stroke-width="0.7"/>
<path d="M65.6 582.0L68.0 590.4M68.1 580.6L70.6 589.0M70.7 579.1L73.1 587.6M73.2 577.7L75.7 586.2M75.8 576.3L78.3 584.7M78.4 574.9L80.8 583.3M80.9 573.4L83.4 581.9M83.5 572.0L85.9 580.5M86.0 570.6L88.5 579.1M88.6 569.2L91.0 577.6M91.1 567.8L93.6 576.2M93.7 566.3L96.2 574.8M96.3 564.9L98.7 573.4M98.8 563.5L101.3 571.9" fill="none" stroke="#2a2a2a" stroke-width="1.35" stroke-linecap="round"/>
<path d="M24.7 578.0C27.6 577.8 30.4 578.9 33.0 580.0C35.6 581.1 38.1 582.5 40.6 584.7C43.1 586.9 45.6 589.9 48.0 593.0C50.4 596.1 53.0 600.2 55.0 603.5C57.0 606.8 58.8 609.9 60.0 613.0C61.2 616.1 62.2 619.2 62.4 622.4C62.6 625.6 62.3 629.1 61.3 632.0C60.3 634.9 58.6 637.8 56.6 640.0C54.6 642.2 51.7 644.1 49.0 645.3C46.3 646.5 43.4 647.0 40.6 647.0C37.9 647.0 35.0 646.5 32.5 645.5C30.0 644.5 27.8 643.4 25.5 641.0C23.2 638.6 21.2 634.8 19.0 631.0C16.8 627.2 14.2 622.5 12.0 618.5C9.8 614.5 7.2 610.1 6.0 607.0C4.8 603.9 5.0 602.2 5.0 600.0C5.0 597.8 5.3 595.9 6.0 594.0C6.7 592.1 7.4 590.6 9.0 588.5C10.6 586.4 12.9 583.2 15.5 581.5C18.1 579.8 21.8 578.2 24.7 578.0Z" fill="#a58642"/>
<path d="M25.0 579.3C27.8 579.0 30.4 579.9 33.0 581.0C35.5 582.1 37.9 583.5 40.3 585.7C42.7 587.9 45.2 591.0 47.5 594.0C49.8 597.0 52.1 600.8 54.0 604.0C55.9 607.2 57.8 610.4 59.0 613.5C60.2 616.6 60.8 619.5 61.0 622.4C61.2 625.3 60.8 628.5 60.0 631.0C59.2 633.5 57.8 635.7 56.0 637.5C54.2 639.3 51.5 641.0 49.0 642.0C46.5 643.0 43.6 643.5 41.0 643.5C38.4 643.5 35.8 642.9 33.5 642.0C31.2 641.1 29.6 640.2 27.5 638.0C25.4 635.8 23.2 632.1 21.0 628.5C18.8 624.9 16.2 620.3 14.0 616.5C11.8 612.7 9.2 608.3 8.0 605.5C6.8 602.7 6.9 601.4 6.8 599.5C6.7 597.6 7.0 596.0 7.6 594.3C8.2 592.6 9.0 591.2 10.5 589.3C12.0 587.4 14.1 584.4 16.5 582.7C18.9 581.0 22.2 579.6 25.0 579.3Z" fill="#f0ede5"/>
<path d="M18.0 600.0C18.3 595.8 20.0 593.8 22.0 592.0C24.0 590.2 27.2 588.9 30.0 589.0C32.8 589.1 36.3 590.5 39.0 592.5C41.7 594.5 44.0 597.8 46.0 601.0C48.0 604.2 50.0 608.3 51.0 612.0C52.0 615.7 52.5 619.8 52.0 623.0C51.5 626.2 50.0 629.1 48.0 631.0C46.0 632.9 42.7 634.2 40.0 634.5C37.3 634.8 34.5 634.2 32.0 633.0C29.5 631.8 27.0 629.7 25.0 627.0C23.0 624.3 21.2 621.5 20.0 617.0C18.8 612.5 17.7 604.2 18.0 600.0Z" fill="#d9d6cd"/>
<path d="M19.0 607.0C20.0 604.3 21.7 600.2 24.0 598.0C26.3 595.8 30.2 593.8 33.0 593.5C35.8 593.2 39.2 594.4 41.0 596.0C42.8 597.6 43.0 601.0 44.0 603.0C45.0 605.0 46.0 605.8 47.0 608.0C48.0 610.2 49.7 613.2 50.0 616.0C50.3 618.8 50.0 622.5 49.0 625.0C48.0 627.5 46.2 629.8 44.0 631.0C41.8 632.2 38.7 632.8 36.0 632.5C33.3 632.2 30.2 630.9 28.0 629.0C25.8 627.1 24.7 623.5 23.0 621.0C21.3 618.5 18.7 616.3 18.0 614.0C17.3 611.7 18.0 609.7 19.0 607.0Z" fill="#f7f7f5"/>
<path d="M17.5 612 Q26 602 38 596.5 L42.5 603 Q32 608 22.5 619 Z" fill="#ffffff" stroke="#dedcd6" stroke-width="0.8"/>
<path d="M31 617 L39.5 611.5 L38.5 623 Z" fill="#8f8d86"/>
<path d="M30 616.5 L36 612.5" stroke="#fff" stroke-width="1.4"/>
<ellipse cx="40" cy="618" rx="7.5" ry="9.5" fill="none" stroke="#e3e1db" stroke-width="1.6" transform="rotate(-28 40 618)"/>
<ellipse cx="27.3" cy="586.5" rx="1.7" ry="2.7" fill="#8a6d2c" transform="rotate(-25 27.3 586.5)"/>
<ellipse cx="55.8" cy="619.0" rx="1.7" ry="2.7" fill="#8a6d2c" transform="rotate(60 55.8 619.0)"/>
<ellipse cx="24.5" cy="627.5" rx="1.7" ry="2.7" fill="#8a6d2c" transform="rotate(-40 24.5 627.5)"/>
<path d="M700 251 L690.5 250.5 Q687 254 687.5 262 Q689 268 695 268.5 L701 266 Z" fill="#cfd6dc" stroke="#7b848b" stroke-width="0.9"/>
<ellipse cx="693.2" cy="262" rx="2.3" ry="3" fill="#fff" stroke="#6f767c" stroke-width="0.9"/>
<path d="M727.5 221 L729.5 218 L733 219 L734.5 228 L729 230 Z" fill="#dfe4e8" stroke="#7b848b" stroke-width="0.8"/>
<path d="M739 283 L746 282 Q750 286 748.5 294 L743.5 293.5 L745.5 288 L740 287 Z" fill="#dfe4e8" stroke="#7b848b" stroke-width="0.8"/>
<path d="M753.1 249.9L753.7 254.4L753.8 259.0L753.4 263.4L752.6 267.7L751.4 271.8L749.8 275.6L747.7 279.0L745.3 282.0L742.6 284.6L739.6 286.6L736.4 288.1L733.1 289.0L729.6 289.3L726.1 289.0L722.6 288.1L719.2 286.7L715.9 284.6L712.8 282.1L710.0 279.1L707.4 275.7L705.2 271.9L703.4 267.9L701.9 263.6L700.9 259.1L700.3 254.6L700.2 250.0L700.6 245.6L701.4 241.3L702.6 237.2L704.2 233.4L706.3 230.0L708.7 227.0L711.4 224.4L714.4 222.4L717.6 220.9L720.9 220.0L724.4 219.7L727.9 220.0L731.4 220.9L734.8 222.3L738.1 224.4L741.2 226.9L744.0 229.9L746.6 233.3L748.8 237.1L750.6 241.1L752.1 245.4L753.1 249.9Z" fill="#bfc5ca" stroke="#6b7278" stroke-width="0.8"/>
<path d="M724.5 231.8L726.7 232.1L728.8 232.9L730.8 234.0L732.8 235.4L734.7 237.2L736.5 239.2L738.1 241.5L739.5 244.1L740.7 246.8L741.7 249.7L742.5 252.7L743.0 255.8L743.3 258.9L743.3 262.0L743.0 264.9L742.5 267.8L741.8 270.5L740.8 273.0L739.6 275.3L738.2 277.3" fill="none" stroke="#eef1f3" stroke-width="3" opacity="0.8"/>
<path d="M703.9 263.1L703.2 260.5L702.7 258.0L702.4 255.4L702.2 252.8L702.2 250.2L702.3 247.6L702.6 245.1L703.1 242.6L703.7 240.2L704.4 238.0L705.3 235.8L706.4 233.7L707.5 231.8L708.8 230.0L710.2 228.4L711.7 227.0L713.3 225.7L715.0 224.6L716.8 223.7L718.6 223.0L720.5 222.6L722.4 222.3L724.4 222.2L726.3 222.4" fill="none" stroke="#161616" stroke-width="9" stroke-linecap="butt"/>
<path d="M709.0 259.8L708.6 257.8L708.4 255.7L708.2 253.7L708.2 251.6L708.3 249.6L708.5 247.6L708.7 245.7L709.1 243.8L709.6 241.9L710.2 240.2L710.9 238.5L711.7 236.9L712.6 235.4L713.6 234.1L714.6 232.8L715.7 231.7L716.9 230.7L718.2 229.8L719.5 229.1L720.8 228.5L722.2 228.1L723.6 227.8L725.1 227.7L726.5 227.8" fill="none" stroke="#2a2e31" stroke-width="2" />
<path d="M743.4 281.2L742.0 282.5L740.6 283.6L739.1 284.6L737.5 285.5L735.9 286.2L734.2 286.7L732.5 287.0L730.7 287.2L729.0 287.3L727.2 287.1L725.5 286.8L723.7 286.4L722.0 285.7L720.2 285.0L718.6 284.0L716.9 282.9L715.3 281.7L713.8 280.3L712.3 278.8L711.0 277.2L709.7 275.4L708.4 273.6L707.3 271.6L706.3 269.6" fill="none" stroke="#161616" stroke-width="7.5" stroke-linecap="butt"/>
<path d="M734 236 L744.5 230.5 L749.5 241 L739 247.5 Z" fill="#181818"/>
<path d="M744 250 L753 246.5 L756 258 L747 261 Z" fill="#181818"/>
<path d="M746.5 264.5 L755.5 262.5 L755 276 L746 278.5 Z" fill="#181818"/>
<path d="M740 249 L747 261 L746 279 L741.5 282 L739.5 262 Z" fill="#8f979d"/>
<path d="M739.1 257.3L739.5 260.5L739.5 263.8L739.2 266.9L738.6 269.8L737.7 272.5L736.5 274.9L735.1 276.9L733.4 278.4L731.6 279.5L729.6 280.0L727.5 280.1L725.5 279.7L723.4 278.7L721.4 277.3L719.5 275.4L717.8 273.1L716.4 270.5L715.1 267.6L714.1 264.6L713.5 261.3L713.1 258.1L713.1 254.8L713.4 251.7L714.0 248.8L714.9 246.1L716.1 243.7L717.5 241.7L719.2 240.2L721.0 239.1L723.0 238.6L725.1 238.5L727.1 238.9L729.2 239.9L731.2 241.3L733.1 243.2L734.8 245.5L736.2 248.1L737.5 251.0L738.5 254.0L739.1 257.3Z" fill="#c9633a"/>
<path d="M737.1 257.7L737.4 260.8L737.4 263.9L737.2 266.9L736.6 269.7L735.8 272.2L734.7 274.5L733.4 276.3L731.8 277.8L730.1 278.8L728.3 279.4L726.4 279.4L724.5 279.0L722.6 278.1L720.8 276.7L719.0 274.9L717.5 272.7L716.1 270.2L714.9 267.5L714.0 264.5L713.3 261.5L713.0 258.4L713.0 255.3L713.2 252.3L713.8 249.5L714.6 247.0L715.7 244.7L717.0 242.9L718.6 241.4L720.3 240.4L722.1 239.8L724.0 239.8L725.9 240.2L727.8 241.1L729.6 242.5L731.4 244.3L732.9 246.5L734.3 249.0L735.5 251.7L736.4 254.7L737.1 257.7Z" fill="#fff"/>
<path d="M706.5 246 Q706 238.5 711 239 Q716 243 715 249.5 Q710 254 706.5 251 Z" fill="#151515"/>
<path d="M728.5 280 Q731 275 736.5 276.5 Q740 281 737 285 Q731 286.5 728.5 283 Z" fill="#151515"/>
<g transform="translate(778.5 194.0) rotate(-24.0)"><rect x="0" y="-2.3" width="18.2" height="4.6" rx="1" fill="url(#gScrew)"/><ellipse cx="19.4" cy="0" rx="2.3" ry="4.7" fill="#b4b4b0" stroke="#6b6b68" stroke-width="0.9"/></g>
<g transform="translate(757.0 236.0) rotate(-23.4)"><rect x="0" y="-2.3" width="18.7" height="4.6" rx="1" fill="url(#gScrew)"/><ellipse cx="19.9" cy="0" rx="2.3" ry="4.7" fill="#b4b4b0" stroke="#6b6b68" stroke-width="0.9"/></g>
<g transform="translate(794.0 259.3) rotate(-23.6)"><rect x="0" y="-2.3" width="18.7" height="4.6" rx="1" fill="url(#gScrew)"/><ellipse cx="19.9" cy="0" rx="2.3" ry="4.7" fill="#b4b4b0" stroke="#6b6b68" stroke-width="0.9"/></g>
<g transform="rotate(-5 860 185)"><ellipse cx="860" cy="185" rx="45.6" ry="58.6" fill="url(#gCapSide)"/></g>
<g clip-path="url(#capClip)">
<path d="M872 185 L806 170 L806 150 Z" fill="#5f5f5f" opacity="0.55" filter="url(#blur2)"/>
<path d="M872 185 L806 178 L806 202 Z" fill="#f6f6f6" opacity="0.95" filter="url(#blur2)"/>
<path d="M872 185 L808 214 L822 240 Z" fill="#6a6a6a" opacity="0.6" filter="url(#blur2)"/>
<path d="M872 185 L830 120 L850 112 Z" fill="#f2f2f2" opacity="0.8" filter="url(#blur2)"/>
<path d="M872 185 L838 252 L866 256 Z" fill="#e8e8e8" opacity="0.7" filter="url(#blur2)"/>
</g>
<g transform="rotate(-6 873 185)"><ellipse cx="873" cy="185" rx="32.5" ry="53.5" fill="url(#gCap)"/></g>
<g transform="rotate(-5 860 185)"><ellipse cx="860" cy="185" rx="45.2" ry="58.2" fill="none" stroke="#8f8f8f" stroke-width="0.8"/></g>
<g transform="rotate(-11 874 185.5)"><ellipse cx="874" cy="185.5" rx="26.8" ry="36" fill="none" stroke="#1a1a1a" stroke-width="1.1"/><ellipse cx="874" cy="185" rx="21.5" ry="30.3" fill="#0a0a0a"/></g>
<path d="M857 166 Q872 165.5 886 172 L885.5 188 Q884 199 879.5 204.5 Q866 197 859.5 184 Z" fill="#1c1c1c" stroke="#e8e8e8" stroke-width="1.3"/>
<path d="M866 181 Q873 179 880 183 L879 191 Q877 196 874 198 Q869 194 866 189 Z" fill="#8d8d8d"/>
<path d="M861.5 171.5 l1.4 0 M866 171.3 l1.4 0 M870.5 171.8 l1.4 0 M875 172.8 l1.4 0 M879.5 174.3 l1.4 0" stroke="#fff" stroke-width="1.7" stroke-linecap="round"/>
<path d="M862 182 Q864 194 875 200 M883.5 186 Q883 196 877 201" stroke="#e0e0e0" stroke-width="1.6" fill="none" stroke-dasharray="1.6 1"/>
<path d="M862 160 Q866 156 871 155" stroke="#999" stroke-width="1.4" fill="none"/>
<text class="ser" x="12.2" y="169.0" font-size="11.6" fill="#000" stroke="#000" stroke-width="0.3" textLength="42.3" lengthAdjust="spacingAndGlyphs">NOTES:</text>
<text class="ser" x="12.2" y="183.0" font-size="11.2" fill="#000" textLength="138.0" lengthAdjust="spacingAndGlyphs">HUB ADAPTER OPTJONS:</text>
<text class="ser" x="12.2" y="194.9" font-size="11.2" fill="#000" textLength="173.2" lengthAdjust="spacingAndGlyphs">SWA1001 (67-68) SWA1002 (69-94)</text>
<text class="ser" x="12.2" y="220.2" font-size="11.2" fill="#000" textLength="168.3" lengthAdjust="spacingAndGlyphs">HORN CONTACT KIT OPTIONS:</text>
<text class="ser" x="12.2" y="232.3" font-size="11.2" fill="#000" textLength="251.6" lengthAdjust="spacingAndGlyphs">STKIT1002 (67-68), STKIT1003 (69-94, NON-TILT)</text>
<text class="ser" x="12.2" y="243.4" font-size="11.2" fill="#000" textLength="122.0" lengthAdjust="spacingAndGlyphs">STKIT1004 (69-94, TILT)</text>
<text class="ser" x="712.0" y="506.8" font-size="16.0" fill="#000">1.</text>
<text class="ser" x="730.0" y="506.8" font-size="16.0" fill="#000" textLength="88.0" lengthAdjust="spacingAndGlyphs">CANCEL CAM</text>
<text class="ser" x="712.0" y="522.6" font-size="16.0" fill="#000">2.</text>
<text class="ser" x="730.0" y="522.6" font-size="16.0" fill="#000" textLength="113.7" lengthAdjust="spacingAndGlyphs">HORN PIN SPRING</text>
<text class="ser" x="712.0" y="538.5" font-size="16.0" fill="#000">3.</text>
<text class="ser" x="730.0" y="538.5" font-size="16.0" fill="#000" textLength="87.0" lengthAdjust="spacingAndGlyphs">CONTACT PIN</text>
<text class="ser" x="712.0" y="554.3" font-size="16.0" fill="#000">4.</text>
<text class="ser" x="730.0" y="554.3" font-size="16.0" fill="#000" textLength="140.4" lengthAdjust="spacingAndGlyphs">HORN PIN INSULATOR</text>
<text class="ser" x="712.0" y="570.1" font-size="16.0" fill="#000">5.</text>
<text class="ser" x="730.0" y="570.1" font-size="16.0" fill="#000" textLength="124.3" lengthAdjust="spacingAndGlyphs">SWA HUB ADAPTER</text>
<text class="ser" x="712.0" y="586.0" font-size="16.0" fill="#000">6.</text>
<text class="ser" x="730.0" y="586.0" font-size="16.0" fill="#000" textLength="100.0" lengthAdjust="spacingAndGlyphs">SWA SPACER***</text>
<text class="ser" x="712.0" y="601.8" font-size="16.0" fill="#000">7.</text>
<text class="ser" x="730.0" y="601.8" font-size="16.0" fill="#000" textLength="115.0" lengthAdjust="spacingAndGlyphs">STEERING WHEEL</text>
<text class="ser" x="712.0" y="617.6" font-size="16.0" fill="#000">8.</text>
<text class="ser" x="730.0" y="617.6" font-size="16.0" fill="#000" textLength="171.0" lengthAdjust="spacingAndGlyphs">STEERING WHEEL SCREWS</text>
<text class="ser" x="712.0" y="633.4" font-size="16.0" fill="#000">9.</text>
<text class="ser" x="730.0" y="633.4" font-size="16.0" fill="#000" textLength="135.0" lengthAdjust="spacingAndGlyphs">CONTACT ASSEMBLY</text>
<text class="ser" x="712.6" y="649.3" font-size="16.0" fill="#000" textLength="16.5" lengthAdjust="spacingAndGlyphs">10.</text>
<text class="ser" x="730.0" y="649.3" font-size="16.0" fill="#000" textLength="170.7" lengthAdjust="spacingAndGlyphs">CONTACT ASSEM. SCREWS</text>
<text class="ser" x="712.6" y="665.1" font-size="16.0" fill="#000" textLength="16.5" lengthAdjust="spacingAndGlyphs">11.</text>
<text class="ser" x="730.0" y="665.1" font-size="16.0" fill="#000" textLength="66.7" lengthAdjust="spacingAndGlyphs">HORN CAP</text>
<g transform="translate(12.47 384.60) scale(1.763 1)"><text class="num" x="0" y="0" font-size="25.3" fill="#000" stroke="#000" stroke-width="1.0" vector-effect="non-scaling-stroke" stroke-linejoin="miter" clip-path="url(#nc1)">1</text></g>
<g transform="translate(71.73 373.00) scale(1.775 1)"><text class="num" x="0" y="0" font-size="25.3" fill="#000" stroke="#000" stroke-width="1.0" vector-effect="non-scaling-stroke" stroke-linejoin="miter">2</text></g>
<g transform="translate(123.52 341.80) scale(1.686 1)"><text class="num" x="0" y="0" font-size="25.3" fill="#000" stroke="#000" stroke-width="1.0" vector-effect="non-scaling-stroke" stroke-linejoin="miter">3</text></g>
<g transform="translate(164.06 312.20) scale(1.681 1)"><text class="num" x="0" y="0" font-size="25.3" fill="#000" stroke="#000" stroke-width="1.0" vector-effect="non-scaling-stroke" stroke-linejoin="miter">4</text></g>
<g transform="translate(223.20 270.80) scale(1.654 1)"><text class="num" x="0" y="0" font-size="25.3" fill="#000" stroke="#000" stroke-width="1.0" vector-effect="non-scaling-stroke" stroke-linejoin="miter">5</text></g>
<g transform="translate(335.61 612.80) scale(1.702 1)"><text class="num" x="0" y="0" font-size="25.3" fill="#000" stroke="#000" stroke-width="1.0" vector-effect="non-scaling-stroke" stroke-linejoin="miter">6</text></g>
<g transform="translate(420.62 270.80) scale(1.728 1)"><text class="num" x="0" y="0" font-size="25.3" fill="#000" stroke="#000" stroke-width="1.0" vector-effect="non-scaling-stroke" stroke-linejoin="miter">7</text></g>
<g transform="translate(534.18 214.00) scale(1.628 1)"><text class="num" x="0" y="0" font-size="25.3" fill="#000" stroke="#000" stroke-width="1.0" vector-effect="non-scaling-stroke" stroke-linejoin="miter">8</text></g>
<g transform="translate(724.62 412.00) scale(1.666 1)"><text class="num" x="0" y="0" font-size="25.3" fill="#000" stroke="#000" stroke-width="1.0" vector-effect="non-scaling-stroke" stroke-linejoin="miter">9</text></g>
<g transform="translate(777.70 430.30) scale(1.454 1)"><text class="num" x="0" y="0" font-size="25.3" fill="#000" stroke="#000" stroke-width="1.0" vector-effect="non-scaling-stroke" stroke-linejoin="miter" clip-path="url(#nc2)">10</text></g>
<g transform="translate(847.64 448.60) scale(1.372 1)"><text class="num" x="0" y="0" font-size="25.3" fill="#000" stroke="#000" stroke-width="1.0" vector-effect="non-scaling-stroke" stroke-linejoin="miter" clip-path="url(#nc3)">11</text></g>
<g transform="translate(275.5 628.3) scale(1.5 1)"><text class="num" x="0" y="0" font-size="8.4" fill="#000" stroke="#000" stroke-width="0.35" vector-effect="non-scaling-stroke"><tspan font-size="5.6" dy="-2.2" textLength="6" lengthAdjust="spacing">***</tspan><tspan dy="2.2" x="6.4" textLength="81.3" lengthAdjust="spacing">SOLD SEPARATELY</tspan></text></g>
</svg>
</body></html>
